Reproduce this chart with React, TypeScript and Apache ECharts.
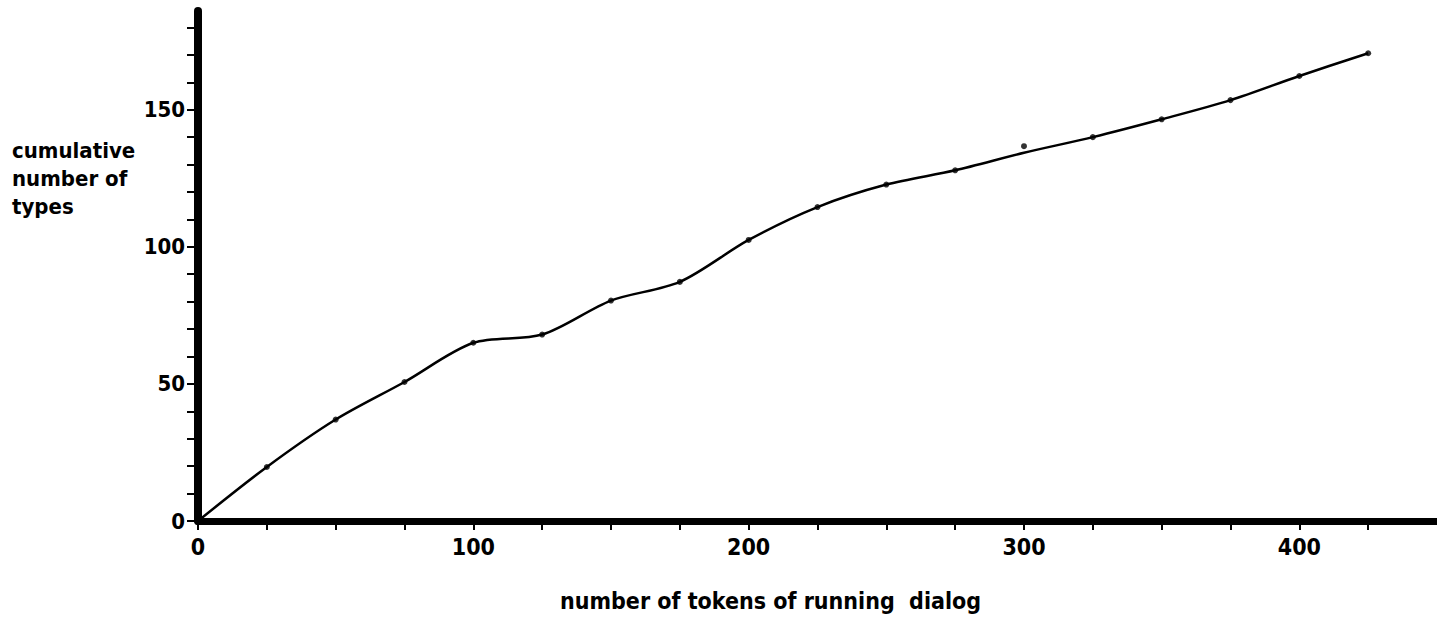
import React, { useEffect, useRef } from "react";
import * as echarts from "echarts";

const tokens = [0, 25, 50, 75, 100, 125, 150, 175, 200, 225, 250, 275, 300, 325, 350, 375, 400, 425];
const pointTypes = [0, 19.7, 37, 50.7, 65, 68, 80.4, 87.2, 102.5, 114.5, 122.7, 127.9, 136.7, 140, 146.5, 153.5, 162.3, 170.6];
const curveTypes = [0, 19.7, 37, 50.7, 65, 68, 80.4, 87.2, 102.5, 114.5, 122.7, 127.9, 134.3, 140, 146.5, 153.5, 162.3, 170.6];
const xTickValues = [0, 25, 50, 75, 100, 125, 150, 175, 200, 225, 250, 275, 300, 325, 350, 375, 400, 425];
const xLabelValues = [0, 100, 200, 300, 400];
const yTickValues = [0, 10, 20, 30, 40, 50, 60, 70, 80, 90, 100, 110, 120, 130, 140, 150, 160, 170, 180];
const yLabelValues = [0, 50, 100, 150];
const yTitle = "cumulative\nnumber of\ntypes";
const xTitle = "number of tokens of running  dialog";

const FONT = "'DejaVu Sans Condensed', 'Liberation Sans Narrow', 'DejaVu Sans', sans-serif";

export default function App() {
  const ref = useRef<HTMLDivElement>(null);
  useEffect(() => {
    if (!ref.current) return;
    const chart = echarts.init(ref.current, null, { renderer: "svg" });
    chart.setOption({
      animation: false,
      backgroundColor: "#ffffff",
      grid: { left: 198, right: 0, top: 11, bottom: 110, containLabel: false },
      xAxis: {
        type: "value",
        min: 0,
        max: 450,
        axisLine: { show: true, onZero: false, lineStyle: { color: "#000", width: 7 } },
        axisTick: { show: true, length: 9, customValues: xTickValues, lineStyle: { color: "#000", width: 2 } },
        axisLabel: {
          customValues: xLabelValues,
          margin: 14,
          color: "#000",
          fontFamily: FONT,
          fontWeight: "bold",
          fontSize: 23,
          hideOverlap: false,
        },
        splitLine: { show: false },
      },
      yAxis: {
        type: "value",
        min: 0,
        max: 186,
        axisLine: { show: true, onZero: false, lineStyle: { color: "#000", width: 8 } },
        axisTick: { show: true, length: 11, customValues: yTickValues, lineStyle: { color: "#000", width: 2 } },
        axisLabel: {
          customValues: yLabelValues,
          margin: 13,
          color: "#000",
          fontFamily: FONT,
          fontWeight: "bold",
          fontSize: 22,
        },
        splitLine: { show: false },
      },
      graphic: [
        {
          type: "text",
          left: 12,
          top: 136,
          style: {
            text: yTitle,
            fill: "#000",
            font: `bold 22px ${FONT}`,
            lineHeight: 28,
          },
        },
        {
          type: "text",
          left: 560,
          top: 589,
          style: {
            text: xTitle,
            fill: "#000",
            font: `bold 23px ${FONT}`,
          },
        },
      ],
      series: [
        {
          type: "line",
          data: tokens.map((t, i) => [t, curveTypes[i]]),
          smooth: 0.3,
          showSymbol: false,
          symbol: "none",
          lineStyle: { color: "#000", width: 2.5 },
          z: 2,
        },
        {
          type: "scatter",
          data: tokens.slice(1).map((t, i) => [t, pointTypes[i + 1]]),
          symbol: "circle",
          symbolSize: 6,
          itemStyle: { color: "#000" },
          z: 3,
        },
      ],
    });
    return () => chart.dispose();
  }, []);
  return (
    <div
      ref={ref}
      style={{ position: "fixed", left: 0, top: 0, width: 1437, height: 631, background: "#fff" }}
    />
  );
}
